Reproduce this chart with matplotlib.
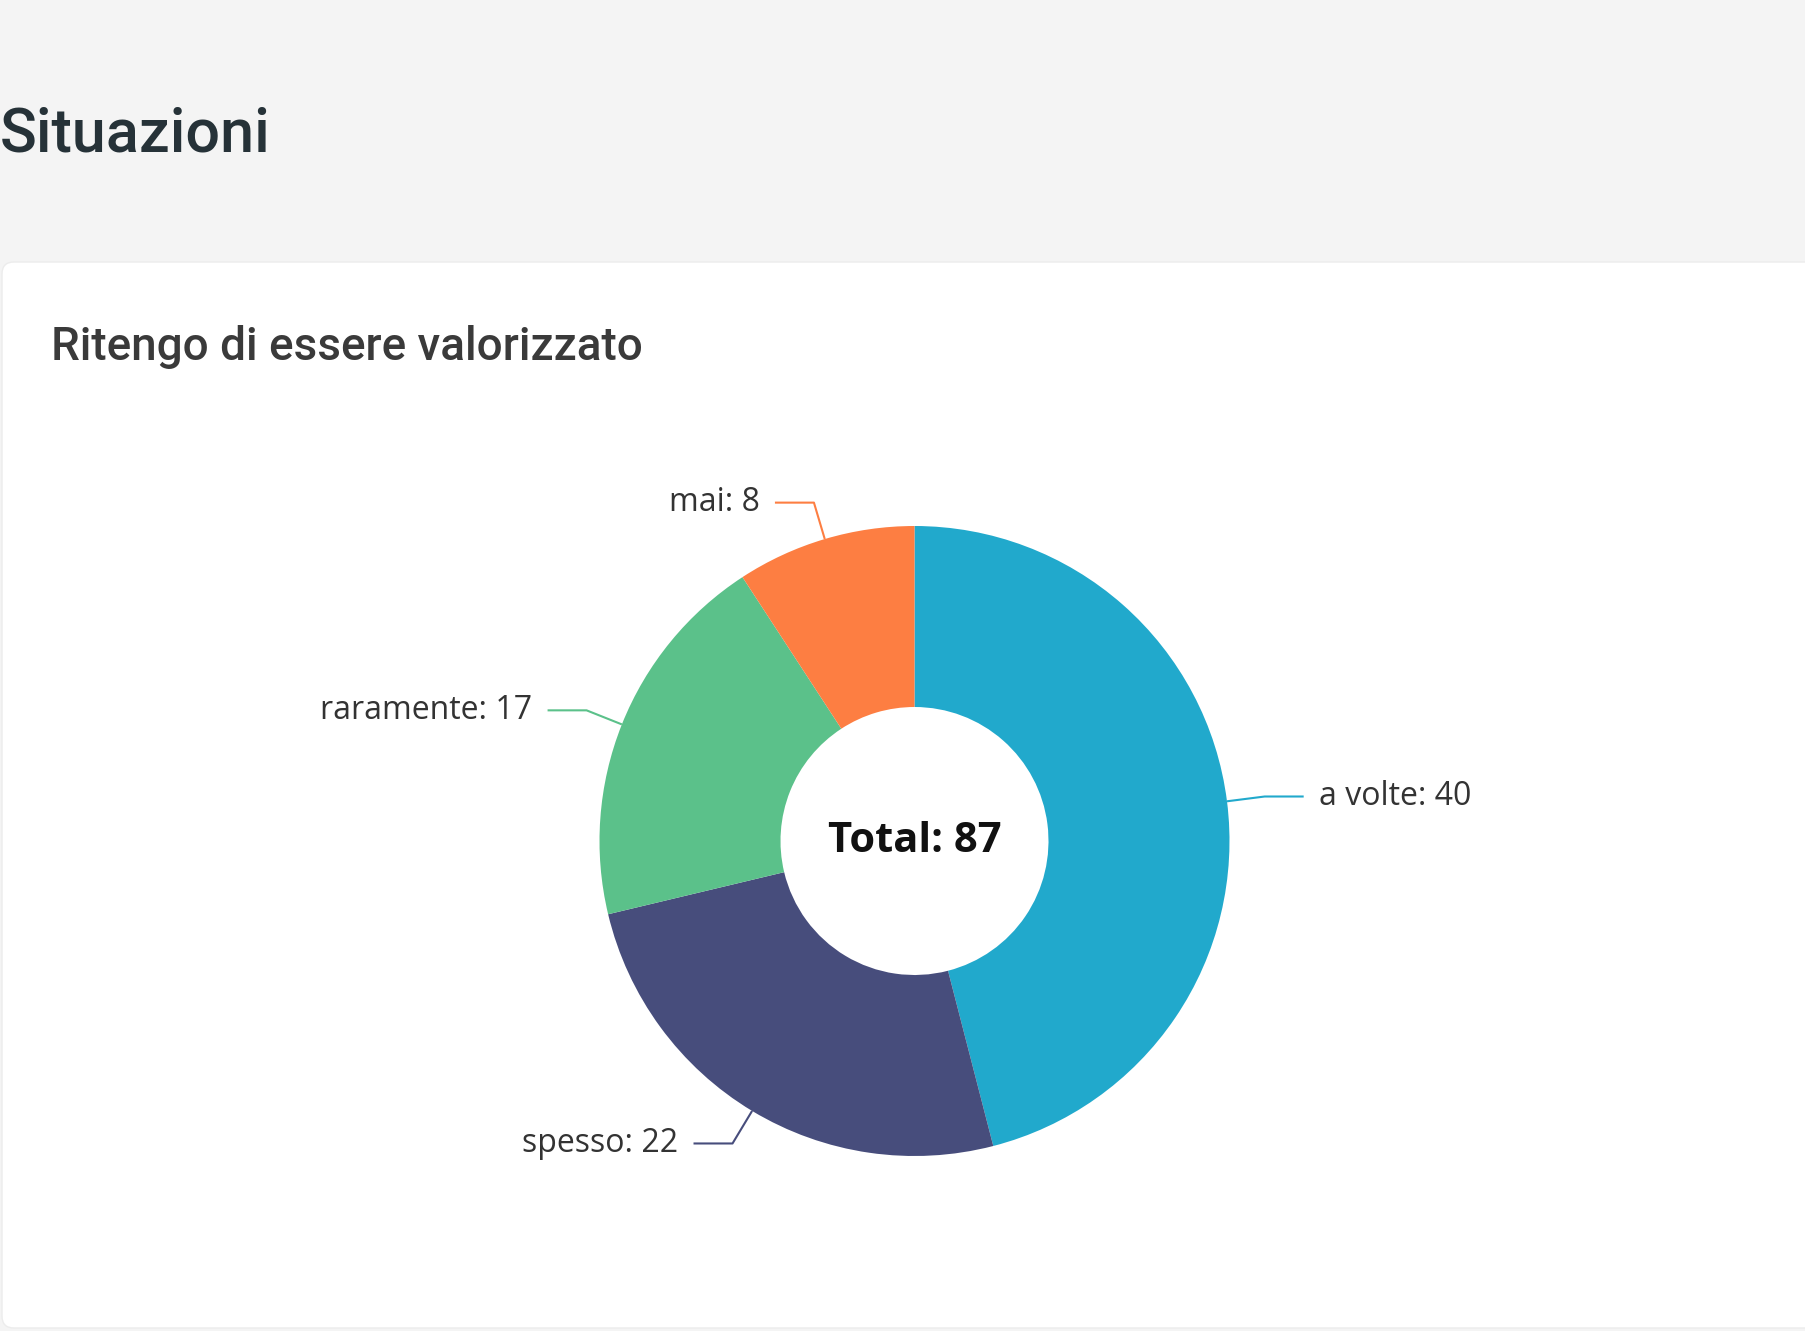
import numpy as np
import matplotlib
matplotlib.use("Agg")
import matplotlib.pyplot as plt
from matplotlib.patches import FancyBboxPatch

# ── data ─────────────────────────────────────────────────────────────
CATEGORIES = ["a volte", "spesso", "raramente", "mai"]
VALUES     = [40, 22, 17, 8]
COLORS     = ["#21a9cc", "#474d7c", "#5bc18a", "#fd7e42"]

PAGE_TITLE  = "Situazioni"
CHART_TITLE = "Ritengo di essere valorizzato"

# ── layout (pixel units, y measured from the bottom) ─────────────────
W, H      = 1806, 1331
CENTER    = (914.5, H - 841)
R_OUT     = 315
R_IN      = 134
RADIAL    = 38      # leader radial segment
HORIZ     = 39      # leader horizontal segment
GAP       = 15      # gap between leader and label

fig = plt.figure(figsize=(W / 100, H / 100), dpi=100)
fig.patch.set_facecolor("#f4f4f4")
ax = fig.add_axes([0, 0, 1, 1])
ax.set_xlim(0, W)
ax.set_ylim(0, H)
ax.axis("off")

# white card
card = FancyBboxPatch((2, 3), W + 40, H - 262 - 3,
                      boxstyle="round,pad=0,rounding_size=12",
                      facecolor="white", edgecolor="#ececec", linewidth=1)
ax.add_patch(card)

# headings
ax.text(0, H - 152, PAGE_TITLE, fontsize=44, family="Roboto",
        fontweight="medium", color="#263238", ha="left", va="baseline")
ax.text(51, H - 360, CHART_TITLE, fontsize=33, family="Roboto",
        fontweight="medium", color="#3a3a3a", ha="left", va="baseline")

# donut
wedges, _ = ax.pie(VALUES, colors=COLORS, startangle=90, counterclock=False,
                   center=CENTER, radius=R_OUT,
                   wedgeprops=dict(width=R_OUT - R_IN, linewidth=0))
ax.set_xlim(0, W)
ax.set_ylim(0, H)
ax.set_aspect("auto")

for w, name, val, col in zip(wedges, CATEGORIES, VALUES, COLORS):
    ang = np.deg2rad((w.theta1 + w.theta2) / 2)
    c, s = np.cos(ang), np.sin(ang)
    x0, y0 = CENTER[0] + R_OUT * c, CENTER[1] + R_OUT * s
    x1, y1 = CENTER[0] + (R_OUT + RADIAL) * c, CENTER[1] + (R_OUT + RADIAL) * s
    sign = 1 if c >= 0 else -1
    x2 = x1 + sign * HORIZ
    ax.plot([x0, x1, x2], [y0, y1, y1], color=col, linewidth=1.5,
            solid_capstyle="butt")
    ax.text(x2 + sign * GAP, y1, f"{name}: {val}", fontsize=23,
            family="Open Sans", color="#333333",
            ha="left" if sign > 0 else "right", va="center")

ax.text(CENTER[0], CENTER[1], f"Total: {sum(VALUES)}", fontsize=30,
        family="Open Sans", fontweight="bold", color="#111111",
        ha="center", va="center")

fig.savefig("out.png", dpi=100, facecolor=fig.get_facecolor())
